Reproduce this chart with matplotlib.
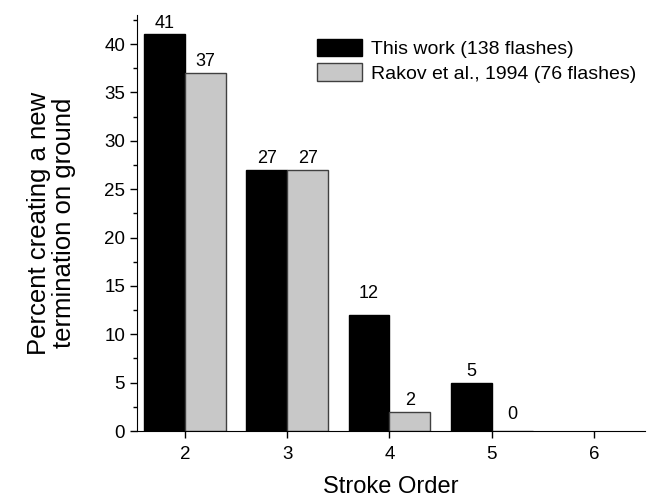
import matplotlib
matplotlib.use("Agg")
import matplotlib.pyplot as plt
import numpy as np

plt.rcParams['font.family'] = ['Liberation Sans', 'DejaVu Sans']

categories = [2, 3, 4, 5, 6]
this_work_x = [2, 3, 4, 5]
this_work = [41, 27, 12, 5]
rakov_x = [2, 3, 4, 5]
rakov = [37, 27, 2, 0]
labels = ["This work (138 flashes)", "Rakov et al., 1994 (76 flashes)"]

fig = plt.figure(figsize=(6.65, 5), dpi=100)
ax = fig.add_axes([0.206, 0.138, 0.764, 0.832])

w = 0.4
ax.bar(np.array(this_work_x) - w/2, this_work, width=w, color='black',
       edgecolor='black', linewidth=1, label=labels[0])
ax.bar(np.array(rakov_x) + w/2, rakov, width=w, color='#c8c8c8',
       edgecolor='#404040', linewidth=1, label=labels[1])

tw_offsets = [2, 2, 9, 2]
rk_offsets = [2, 2, 2, 6]
for x, v, o in zip(np.array(this_work_x) - w/2, this_work, tw_offsets):
    ax.annotate(str(v), (x, v), xytext=(0, o), textcoords='offset points',
                ha='center', va='bottom', fontsize=13)
for x, v, o in zip(np.array(rakov_x) + w/2, rakov, rk_offsets):
    ax.annotate(str(v), (x, v), xytext=(0, o), textcoords='offset points',
                ha='center', va='bottom', fontsize=13)

ax.set_xlim(1.53, 6.5)
ax.set_ylim(0, 43)
ax.set_xticks(categories)
ax.set_yticks(np.arange(0, 41, 5))
ax.set_yticks(np.arange(2.5, 43, 5), minor=True)
ax.tick_params(axis='both', labelsize=13.5, direction='out', length=5, width=1)
ax.tick_params(axis='x', pad=6)
ax.tick_params(axis='y', which='minor', length=3, width=1)
ax.spines['top'].set_visible(False)
ax.spines['right'].set_visible(False)

ax.set_xlabel("Stroke Order", fontsize=17, labelpad=9)
ax.set_ylabel("Percent creating a new\ntermination on ground", fontsize=18.5,
              labelpad=20, linespacing=1.1)

ax.legend(loc='upper right', bbox_to_anchor=(1.01, 0.975), frameon=False, fontsize=14,
          handlelength=2.3, handleheight=1.0, handletextpad=0.5, labelspacing=0.25,
          borderpad=0.2)

fig.savefig("out.png", dpi=100)
